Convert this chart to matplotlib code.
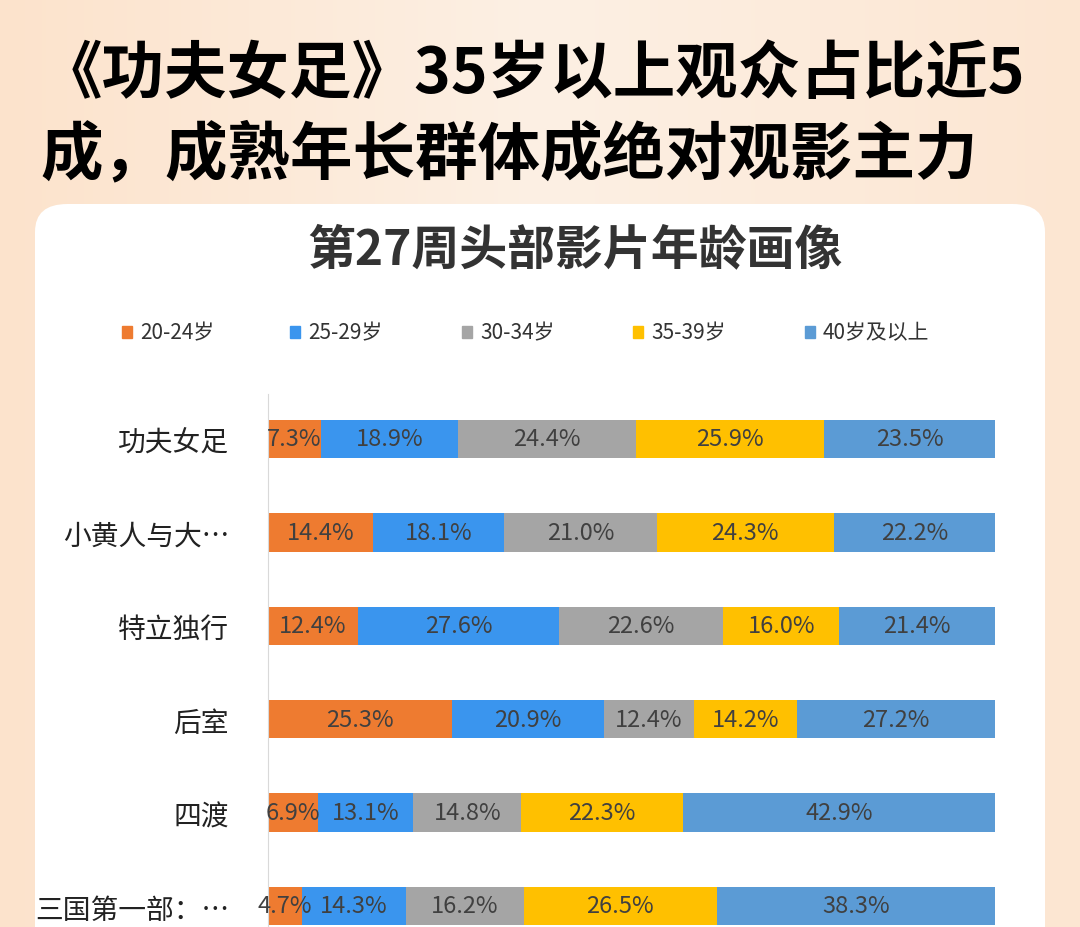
import matplotlib.pyplot as plt
from matplotlib.patches import FancyBboxPatch, Rectangle
import numpy as np

plt.rcParams['font.family'] = ['Noto Sans CJK SC', 'DejaVu Sans']

films = ['功夫女足', '小黄人与大…', '特立独行', '后室', '四渡', '三国第一部：…']
groups = ['20-24岁', '25-29岁', '30-34岁', '35-39岁', '40岁及以上']
colors = ['#EE7B30', '#3A95EE', '#A5A5A5', '#FFC000', '#5B9BD5']
shares = [
    [7.3, 18.9, 24.4, 25.9, 23.5],
    [14.4, 18.1, 21.0, 24.3, 22.2],
    [12.4, 27.6, 22.6, 16.0, 21.4],
    [25.3, 20.9, 12.4, 14.2, 27.2],
    [6.9, 13.1, 14.8, 22.3, 42.9],
    [4.7, 14.3, 16.2, 26.5, 38.3],
]

W, H = 1080, 928
fig = plt.figure(figsize=(W / 100, H / 100), dpi=100)

# peach background
bg = fig.add_axes([0, 0, 1, 1])
grad = np.linspace(0, 1, 256).reshape(1, -1)
bg.imshow(grad, aspect='auto', extent=[0, 1, 0, 1], cmap=plt.matplotlib.colors.LinearSegmentedColormap.from_list(
    'p', ['#FCE3CC', '#FDF0E4', '#FCE6D2']))
bg.set_xlim(0, 1)
bg.set_ylim(0, 1)
bg.axis('off')
card = FancyBboxPatch((35 / W, -0.05), (1045 - 35) / W, (H - 205) / H + 0.05,
                      boxstyle='round,pad=0,rounding_size=0.03', fc='white', ec='none',
                      transform=bg.transAxes)
bg.add_patch(card)

fig.text(40 / W, 1 - 75 / H, '《功夫女足》35岁以上观众占比近5', fontsize=45, fontweight='bold',
         va='center', ha='left')
fig.text(40 / W, 1 - 155 / H, '成，成熟年长群体成绝对观影主力', fontsize=45, fontweight='bold',
         va='center', ha='left')
fig.text(575 / W, 1 - 250 / H, '第27周头部影片年龄画像', fontsize=34.5, fontweight='bold',
         va='center', ha='center', color='#333333')

# legend
leg_x = [122, 290, 462, 633, 805]
for x, g, c in zip(leg_x, groups, colors):
    bg.add_patch(Rectangle((x / W, 1 - 339 / H), 10 / W, 12 / H, color=c, transform=bg.transAxes))
    fig.text((x + 18) / W, 1 - 333 / H, g, fontsize=15, va='center', ha='left', color='#333333')

# bars
top_px, bot_px = 395, 928
x0, x1 = 268, 995
ax = fig.add_axes([x0 / W, 1 - bot_px / H, (x1 - x0) / W, (bot_px - top_px) / H])
step = 93.4
ax.set_ylim((bot_px - 440) / step, (top_px - 440) / step)
ax.set_xlim(0, 100)
y = np.arange(len(films))
data = np.array(shares)
left = np.zeros(len(films))
for j, c in enumerate(colors):
    ax.barh(y, data[:, j], left=left, height=0.41, color=c)
    for i in range(len(films)):
        ax.text(left[i] + data[i, j] / 2, y[i], f'{data[i, j]:.1f}%', ha='center', va='center',
                fontsize=17, color='#404040')
    left += data[:, j]
ax.set_yticks(y)
ax.set_yticklabels(films, fontsize=20, color='#222222')
ax.tick_params(axis='y', length=0, pad=28)
ax.set_xticks([])
for s in ['top', 'right', 'bottom']:
    ax.spines[s].set_visible(False)
ax.spines['left'].set_color('#D9D9D9')
ax.patch.set_alpha(0)

fig.savefig('out.png', dpi=100)
